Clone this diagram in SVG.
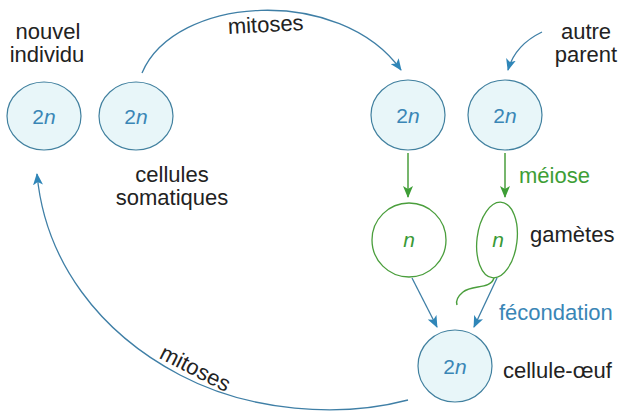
<svg xmlns="http://www.w3.org/2000/svg" width="623" height="417" viewBox="0 0 623 417">
<style>
.cell{fill:#e8f6f9;stroke:#41809f;stroke-width:1.2}
.gam{fill:#ffffff;stroke:#4a9e3c;stroke-width:1.3}
.lbl{font-family:"Liberation Sans",Arial,sans-serif;font-size:22px;fill:#222}
.ploidy{font-family:"Liberation Sans",Arial,sans-serif;font-size:21px;fill:#3a86b6;text-anchor:middle}
.gtxt{font-family:"Liberation Sans",Arial,sans-serif;font-size:21px;fill:#3a9a36;text-anchor:middle;font-style:italic}
.blue{fill:none;stroke:#3f7fa6;stroke-width:1.3}
.green{fill:none;stroke:#4a9e3c;stroke-width:1.5}
</style>
<defs>
<marker id="ab" viewBox="0 0 12 10" refX="11" refY="5" markerWidth="12" markerHeight="10" markerUnits="userSpaceOnUse" orient="auto">
<path d="M0,0 L12,5 L0,10 L3,5 Z" fill="#2f86b8"/>
</marker>
<marker id="ag" viewBox="0 0 12 10" refX="11" refY="5" markerWidth="12" markerHeight="10" markerUnits="userSpaceOnUse" orient="auto">
<path d="M0,0 L12,5 L0,10 L3,5 Z" fill="#3e9e36"/>
</marker>
</defs>

<g id="connectors">
<path class="blue" d="M142,73 C175,-5 340,-15 401,70" marker-end="url(#ab)"/>
<path class="blue" d="M542,32 Q515,45 508,70" marker-end="url(#ab)"/>
<path class="green" d="M408,153 L408,197" marker-end="url(#ag)"/>
<path class="green" d="M505,153 L505,197" marker-end="url(#ag)"/>
<path class="blue" d="M412,278 L437,327" marker-end="url(#ab)"/>
<path class="blue" d="M497,278 L474,327" marker-end="url(#ab)"/>
<path class="blue" d="M408,400 C340,418 250,412 180,375 C100,333 45,262 37,174" marker-end="url(#ab)"/>
</g>

<g id="nouvel-individu">
<ellipse class="cell" cx="44" cy="116" rx="37" ry="34"/>
<text class="ploidy" x="44" y="124">2<tspan font-style="italic">n</tspan></text>
<text class="lbl" x="48" y="39" text-anchor="middle">nouvel</text>
<text class="lbl" x="47" y="62" text-anchor="middle">individu</text>
</g>

<g id="cellules-somatiques">
<ellipse class="cell" cx="136" cy="116" rx="37" ry="34"/>
<text class="ploidy" x="136" y="124">2<tspan font-style="italic">n</tspan></text>
<text class="lbl" x="172" y="182" text-anchor="middle">cellules</text>
<text class="lbl" x="172" y="205" text-anchor="middle">somatiques</text>
</g>

<g id="parent1">
<ellipse class="cell" cx="408" cy="115" rx="37" ry="35"/>
<text class="ploidy" x="408" y="123">2<tspan font-style="italic">n</tspan></text>
</g>

<g id="parent2">
<ellipse class="cell" cx="505" cy="115" rx="37" ry="35"/>
<text class="ploidy" x="505" y="123">2<tspan font-style="italic">n</tspan></text>
<text class="lbl" x="586" y="39" text-anchor="middle">autre</text>
<text class="lbl" x="586" y="62" text-anchor="middle">parent</text>
</g>

<g id="meiose-label">
<text class="lbl" x="519" y="183" style="fill:#3e9e36">méiose</text>
</g>

<g id="gamete1">
<circle class="gam" cx="409" cy="240" r="37"/>
<text class="gtxt" x="409" y="247">n</text>
</g>

<g id="gamete2">
<ellipse class="gam" cx="497" cy="240" rx="20" ry="38" transform="rotate(7 497 240)"/>
<path class="green" d="M494,278 C490,290 472,284 463,292 C457,297 456,302 457,305"/>
<text class="gtxt" x="498" y="247">n</text>
<text class="lbl" x="530" y="242">gamètes</text>
</g>

<g id="fecondation-label">
<text class="lbl" x="499" y="320" style="fill:#3a86b6">fécondation</text>
</g>

<g id="cellule-oeuf">
<ellipse class="cell" cx="455" cy="366" rx="37" ry="36"/>
<text class="ploidy" x="455" y="374">2<tspan font-style="italic">n</tspan></text>
<text class="lbl" x="503" y="378">cellule-œuf</text>
</g>

<g id="mitoses-labels">
<text class="lbl" x="266" y="32" text-anchor="middle" transform="rotate(-3 266 32)">mitoses</text>
<text class="lbl" x="192" y="375" text-anchor="middle" transform="rotate(27 192 375)">mitoses</text>
</g>
</svg>
